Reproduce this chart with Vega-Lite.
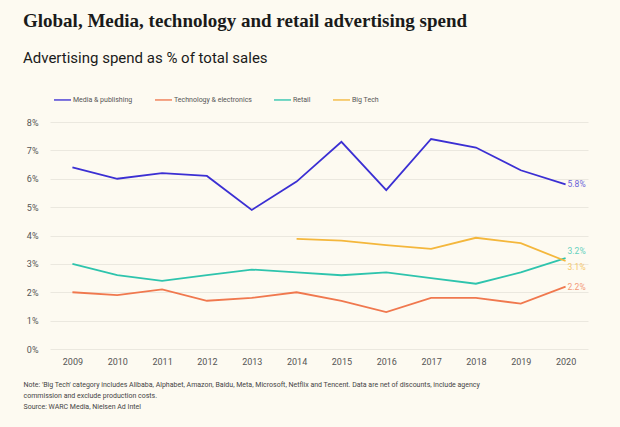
{
  "$schema": "https://vega.github.io/schema/vega-lite/v6.json",
  "autosize": "none",
  "width": 538,
  "height": 227,
  "padding": {"left": 50, "top": 122, "right": 32, "bottom": 78},
  "background": "#fdfaf1",
  "title": {
    "text": "Global, Media, technology and retail advertising spend",
    "subtitle": "Advertising spend as % of total sales",
    "anchor": "start",
    "frame": "group",
    "dx": -27,
    "offset": 24,
    "font": "Liberation Serif",
    "fontSize": 19,
    "fontWeight": "bold",
    "color": "#1a1a1a",
    "subtitleFont": "Roboto",
    "subtitleFontSize": 15,
    "subtitleColor": "#1a1a1a",
    "subtitlePadding": 20
  },
  "config": {
    "view": {"stroke": null},
    "font": "Roboto"
  },
  "data": {
    "values": [
      {"year": "2009", "series": "Media & publishing", "value": 6.4},
      {"year": "2010", "series": "Media & publishing", "value": 6.0},
      {"year": "2011", "series": "Media & publishing", "value": 6.2},
      {"year": "2012", "series": "Media & publishing", "value": 6.1},
      {"year": "2013", "series": "Media & publishing", "value": 4.9},
      {"year": "2014", "series": "Media & publishing", "value": 5.9},
      {"year": "2015", "series": "Media & publishing", "value": 7.3},
      {"year": "2016", "series": "Media & publishing", "value": 5.6},
      {"year": "2017", "series": "Media & publishing", "value": 7.4},
      {"year": "2018", "series": "Media & publishing", "value": 7.1},
      {"year": "2019", "series": "Media & publishing", "value": 6.3},
      {"year": "2020", "series": "Media & publishing", "value": 5.8},
      {"year": "2009", "series": "Technology & electronics", "value": 2.0},
      {"year": "2010", "series": "Technology & electronics", "value": 1.9},
      {"year": "2011", "series": "Technology & electronics", "value": 2.1},
      {"year": "2012", "series": "Technology & electronics", "value": 1.7},
      {"year": "2013", "series": "Technology & electronics", "value": 1.8},
      {"year": "2014", "series": "Technology & electronics", "value": 2.0},
      {"year": "2015", "series": "Technology & electronics", "value": 1.7},
      {"year": "2016", "series": "Technology & electronics", "value": 1.3},
      {"year": "2017", "series": "Technology & electronics", "value": 1.8},
      {"year": "2018", "series": "Technology & electronics", "value": 1.8},
      {"year": "2019", "series": "Technology & electronics", "value": 1.6},
      {"year": "2020", "series": "Technology & electronics", "value": 2.2},
      {"year": "2009", "series": "Retail", "value": 3.0},
      {"year": "2010", "series": "Retail", "value": 2.6},
      {"year": "2011", "series": "Retail", "value": 2.4},
      {"year": "2012", "series": "Retail", "value": 2.6},
      {"year": "2013", "series": "Retail", "value": 2.8},
      {"year": "2014", "series": "Retail", "value": 2.7},
      {"year": "2015", "series": "Retail", "value": 2.6},
      {"year": "2016", "series": "Retail", "value": 2.7},
      {"year": "2017", "series": "Retail", "value": 2.5},
      {"year": "2018", "series": "Retail", "value": 2.3},
      {"year": "2019", "series": "Retail", "value": 2.7},
      {"year": "2020", "series": "Retail", "value": 3.2},
      {"year": "2014", "series": "Big Tech", "value": 3.88},
      {"year": "2015", "series": "Big Tech", "value": 3.82},
      {"year": "2016", "series": "Big Tech", "value": 3.66},
      {"year": "2017", "series": "Big Tech", "value": 3.53},
      {"year": "2018", "series": "Big Tech", "value": 3.92},
      {"year": "2019", "series": "Big Tech", "value": 3.73},
      {"year": "2020", "series": "Big Tech", "value": 3.1}
    ]
  },
  "encoding": {
    "x": {
      "field": "year",
      "type": "ordinal",
      "scale": {"type": "point", "padding": 0.5},
      "axis": {
        "labelAngle": 0,
        "labelFontSize": 9,
        "labelColor": "#555555",
        "labelPadding": 8,
        "ticks": false,
        "domain": false,
        "grid": false,
        "title": [
          "Note: 'Big Tech' category includes Alibaba, Alphabet, Amazon, Baidu, Meta, Microsoft, Netflix and Tencent. Data are net of discounts, include agency",
          "commission and exclude production costs.",
          "Source: WARC Media, Nielsen Ad Intel"
        ],
        "titleAnchor": "start",
        "titleAlign": "left",
        "titleBaseline": "middle",
        "titleX": -27,
        "titleY": 35,
        "titleFontSize": 7,
        "titleFontWeight": "normal",
        "titleColor": "#444444",
        "titleLineHeight": 11
      }
    },
    "y": {
      "field": "value",
      "type": "quantitative",
      "scale": {"domain": [0, 8]},
      "axis": {
        "values": [0, 1, 2, 3, 4, 5, 6, 7, 8],
        "labelExpr": "datum.value + '%'",
        "labelFontSize": 9,
        "labelColor": "#555555",
        "labelPadding": 12,
        "ticks": false,
        "domain": false,
        "gridColor": "#ebe8df",
        "gridWidth": 1,
        "title": null
      }
    },
    "color": {
      "field": "series",
      "type": "nominal",
      "scale": {
        "domain": ["Media & publishing", "Technology & electronics", "Retail", "Big Tech"],
        "range": ["#3b2fd3", "#f0784e", "#2ec4ad", "#f4b73c"]
      },
      "legend": {
        "orient": "none",
        "legendX": 3,
        "legendY": -32,
        "direction": "horizontal",
        "title": null,
        "symbolType": "stroke",
        "symbolSize": 290,
        "symbolStrokeWidth": 1.8,
        "labelFontSize": 7,
        "labelColor": "#555555",
        "labelOffset": 1,
        "columnPadding": 18
      }
    }
  },
  "layer": [
    {
      "mark": {"type": "line", "strokeWidth": 1.8}
    },
    {
      "transform": [
        {"filter": "datum.year == '2020' && (datum.series == 'Media & publishing' || datum.series == 'Technology & electronics')"},
        {"calculate": "format(datum.value, '.1f') + '%'", "as": "label"}
      ],
      "mark": {"type": "text", "align": "left", "dx": 2, "fontSize": 8.5, "opacity": 0.75},
      "encoding": {"text": {"field": "label", "type": "nominal"}}
    },
    {
      "transform": [
        {"filter": "datum.year == '2020' && datum.series == 'Retail'"},
        {"calculate": "format(datum.value, '.1f') + '%'", "as": "label"}
      ],
      "mark": {"type": "text", "align": "left", "dx": 2, "dy": -7, "fontSize": 8.5, "opacity": 0.75},
      "encoding": {"text": {"field": "label", "type": "nominal"}}
    },
    {
      "transform": [
        {"filter": "datum.year == '2020' && datum.series == 'Big Tech'"},
        {"calculate": "format(datum.value, '.1f') + '%'", "as": "label"}
      ],
      "mark": {"type": "text", "align": "left", "dx": 2, "dy": 6, "fontSize": 8.5, "opacity": 0.75},
      "encoding": {"text": {"field": "label", "type": "nominal"}}
    }
  ]
}
